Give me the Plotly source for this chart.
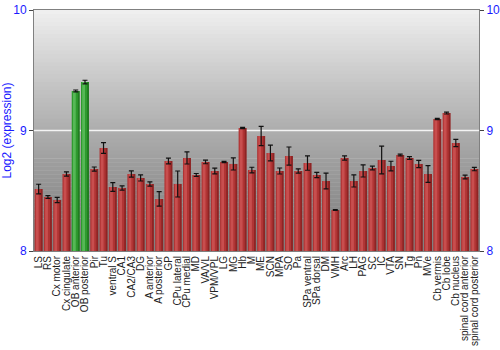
import plotly.graph_objects as go

categories = ["LS", "RS", "Cx motor", "Cx cingulate", "OB anterior", "OB posterior", "Pir", "Tu",
              "ventral S", "CA1", "CA2/CA3", "DG", "A anterior", "A posterior", "GP", "CPu lateral",
              "CPu medial", "MD", "VA/VL", "VPM/VPL", "LG", "MG", "Hb", "M", "ME", "SCN", "MPA", "SO",
              "Pa", "SPa ventral", "SPa dorsal", "DM", "VMH", "Arc", "LH", "PAG", "SC", "IC", "VTA",
              "SN", "Tg", "Pn", "MVe", "Cb vermis", "Cb lobe", "Cb nucleus",
              "spinal cord anterior", "spinal cord posterior"]
values = [8.514, 8.448, 8.423, 8.639, 9.328, 9.402, 8.680, 8.855,
          8.531, 8.523, 8.639, 8.606, 8.556, 8.432, 8.747, 8.556,
          8.772, 8.631, 8.739, 8.664, 8.739, 8.722, 9.021, 8.672, 8.954, 8.813, 8.664, 8.788,
          8.664, 8.730, 8.631, 8.581, 8.340, 8.772, 8.581, 8.664, 8.689, 8.755, 8.705,
          8.797, 8.772, 8.722, 8.639, 9.095, 9.145, 8.896,
          8.614, 8.680]
errors = [0.040, 0.012, 0.022, 0.017, 0.008, 0.015, 0.017, 0.045,
          0.036, 0.018, 0.026, 0.025, 0.018, 0.060, 0.024, 0.108,
          0.050, 0.012, 0.015, 0.024, 0.005, 0.050, 0.005, 0.023, 0.080, 0.065, 0.025, 0.075,
          0.018, 0.060, 0.022, 0.065, 0.004, 0.018, 0.050, 0.050, 0.015, 0.115, 0.040,
          0.007, 0.011, 0.030, 0.070, 0.005, 0.008, 0.030,
          0.015, 0.014]
highlighted = ["OB anterior", "OB posterior"]
y_range = [8, 10]
y_ticks = [8, 9, 10]

base_col = ["#2e9a2e" if c in highlighted else "#b03434" for c in categories]
light_col = ["rgba(120,210,120,0.55)" if c in highlighted else "rgba(220,100,100,0.55)" for c in categories]
dark_col = ["rgba(10,70,10,0.35)" if c in highlighted else "rgba(80,10,10,0.35)" for c in categories]

fig = go.Figure()
fig.add_trace(go.Bar(x=categories, y=values, marker=dict(color=base_col, line=dict(width=0)),
                     width=0.86, showlegend=False, hoverinfo="skip"))
fig.add_trace(go.Bar(x=categories, y=values, marker=dict(color=light_col, line=dict(width=0)),
                     width=0.3, offset=-0.3, showlegend=False, hoverinfo="skip"))
fig.add_trace(go.Bar(x=categories, y=values, marker=dict(color=dark_col, line=dict(width=0)),
                     width=0.2, offset=0.23, showlegend=False, hoverinfo="skip"))
fig.add_trace(go.Scatter(x=categories, y=values, mode="markers",
                         marker=dict(size=0.1, color="rgba(0,0,0,0)"),
                         error_y=dict(type="data", array=errors, color="#111111", thickness=1.2, width=2.5),
                         showlegend=False, hoverinfo="skip"))
fig.add_trace(go.Scatter(x=[categories[0]], y=[values[0]], yaxis="y2", mode="markers",
                         marker=dict(size=0.1, color="rgba(0,0,0,0)"), showlegend=False, hoverinfo="skip"))

# background gradient bands
n = 60
for i in range(n):
    t0 = i / n
    t1 = (i + 1) / n
    tm = (t0 + t1) / 2
    g = int(round(128 + (240 - 128) * (tm ** 1.3)))
    fig.add_shape(type="rect", xref="x domain", yref="y domain", x0=0, x1=1, y0=t0, y1=t1 + 0.002,
                  fillcolor=f"rgb({g},{g},{g})", line=dict(width=0), layer="below")
fig.add_shape(type="line", xref="x domain", yref="y", x0=0, x1=1, y0=9, y1=9,
              line=dict(color="#f4f4f4", width=1.5), layer="below")

axis_font = dict(family="Liberation Sans, Arial, sans-serif", size=12, color="#1a1aff")
fig.update_layout(
    width=500, height=350,
    margin=dict(l=34, r=21, t=10, b=99),
    paper_bgcolor="white", plot_bgcolor="rgba(0,0,0,0)",
    barmode="overlay",
    font=dict(family="Liberation Sans, Arial, sans-serif"),
    xaxis=dict(tickangle=-90, tickfont=dict(family="Liberation Sans, Arial, sans-serif", size=10, color="#222222"),
               tickmode="array", tickvals=categories, ticktext=categories,
               showgrid=False, showline=True, linecolor="#808080", linewidth=1, mirror=True,
               ticks="", range=[-0.5, len(categories) - 0.5], automargin=False),
    yaxis=dict(range=y_range, tickvals=y_ticks, tickfont=axis_font, showgrid=False,
               showline=True, linecolor="#808080", linewidth=1, ticks="outside", ticklen=4,
               tickcolor="#444444", zeroline=False, automargin=False,
               title=dict(text="Log2 (expression)", font=axis_font, standoff=4)),
    yaxis2=dict(range=y_range, tickvals=y_ticks, tickfont=axis_font, overlaying="y", side="right",
                showgrid=False, showline=True, linecolor="#808080", linewidth=1, ticks="outside",
                ticklen=4, tickcolor="#444444", zeroline=False, automargin=False),
)
fig.write_html("out.html")
